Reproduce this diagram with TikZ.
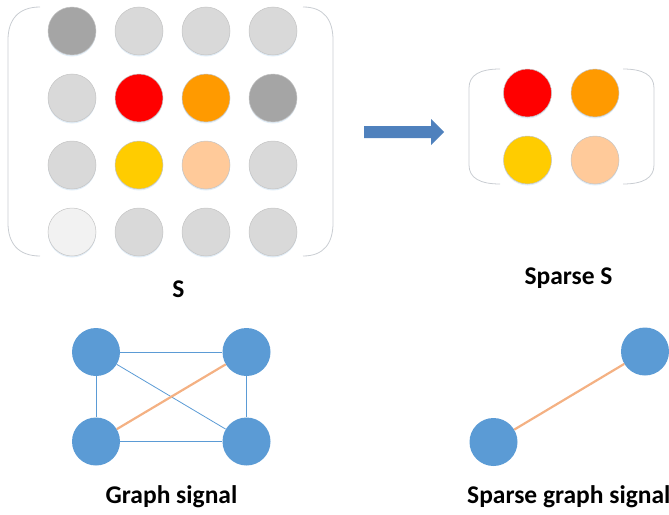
\documentclass[tikz,border=0pt]{standalone}
\usepackage{fontspec}
\setmainfont{Carlito}
\usetikzlibrary{shadows,calc}
\definecolor{dgray}{HTML}{A5A5A5}
\definecolor{lgray}{HTML}{D9D9D9}
\definecolor{vlgray}{HTML}{F2F2F2}
\definecolor{cred}{HTML}{FF0000}
\definecolor{corange}{HTML}{FF9A00}
\definecolor{cyellow}{HTML}{FFCC00}
\definecolor{cpeach}{HTML}{FFCA9A}
\definecolor{ringline}{HTML}{C4C4C4}
\definecolor{bracketgray}{HTML}{C9CDD2}
\definecolor{nodeblue}{HTML}{5B9BD5}
\definecolor{arrowblue}{HTML}{4F81BD}
\definecolor{edgeorange}{HTML}{F4B183}
\tikzset{
  x=1pt, y=-1pt,
  cell/.style={circle, minimum size=48pt, inner sep=0pt, draw=ringline, line width=0.5pt,
    drop shadow={shadow xshift=0pt, shadow yshift=-1.5pt, fill=nodeblue, opacity=0.18}},
  gnode/.style={circle, minimum size=48pt, inner sep=0pt, fill=nodeblue},
  thinedge/.style={draw=nodeblue, line width=0.8pt},
  sigedge/.style={draw=edgeorange, line width=2.2pt},
  bracket/.style={draw=bracketgray, line width=0.8pt},
  caption/.style={font=\fontsize{25.5}{30}\selectfont\bfseries, inner sep=0pt}
}
\begin{document}
\begin{tikzpicture}
\useasboundingbox (0,0) rectangle (669,514);

% full matrix S: 4x4 grid of cells
\foreach \c [count=\k from 0] in {dgray,lgray,lgray,lgray,
                                   lgray,cred,corange,dgray,
                                   lgray,cyellow,cpeach,lgray,
                                   vlgray,lgray,lgray,lgray}{
  \pgfmathtruncatemacro{\row}{int(\k/4)}
  \pgfmathtruncatemacro{\col}{mod(\k,4)}
  \node[cell, fill=\c] (m\row\col) at ({72+67*\col},{31+67*\row}) {};
}
% brackets of S
\draw[bracket] (40,7) .. controls (18,7) and (8,20) .. (8,40) -- (8,223)
  .. controls (8,243) and (18,256) .. (40,256);
\draw[bracket] (303,7) .. controls (324,7) and (333,20) .. (333,40) -- (333,223)
  .. controls (333,243) and (324,256) .. (303,256);
\node[caption, anchor=base] (lblS) at (178.5,297) {S};

% arrow
\fill[arrowblue] (364,126) -- (431,126) -- (431,119) -- (444,132) -- (431,145)
  -- (431,138) -- (364,138) -- cycle;

% sparse matrix
\node[cell, fill=cred] (s00) at (527.5,93) {};
\node[cell, fill=corange] (s01) at (595,93) {};
\node[cell, fill=cyellow] (s10) at (527.5,160) {};
\node[cell, fill=cpeach] (s11) at (595,160) {};
\draw[bracket] (500,69) .. controls (480,69) and (469,75) .. (469,88) -- (469,165)
  .. controls (469,178) and (480,184) .. (500,184);
\draw[bracket] (623,69) .. controls (643,69) and (654,75) .. (654,88) -- (654,165)
  .. controls (654,178) and (643,184) .. (623,184);
\node[caption, anchor=base] (lblSS) at (568.5,284) {Sparse S};

% graph signal
\node[gnode] (g1) at (96,352) {};
\node[gnode] (g2) at (246.5,352) {};
\node[gnode] (g3) at (96,441.5) {};
\node[gnode] (g4) at (246.5,441.5) {};
\draw[thinedge] (g1) -- (g2);
\draw[thinedge] (g1) -- (g3);
\draw[thinedge] (g2) -- (g4);
\draw[thinedge] (g3) -- (g4);
\draw[thinedge] (g1) -- (g4);
\draw[sigedge] (g3) -- (g2);
\node[caption, anchor=base] (lblG) at (171.5,503) {Graph signal};

% sparse graph signal
\node[gnode] (h1) at (645,351.5) {};
\node[gnode] (h2) at (493.5,442) {};
\draw[sigedge] (h2) -- (h1);
\node[caption, anchor=base west] (lblSG) at (467,503) {Sparse graph signal};
\end{tikzpicture}
\end{document}
